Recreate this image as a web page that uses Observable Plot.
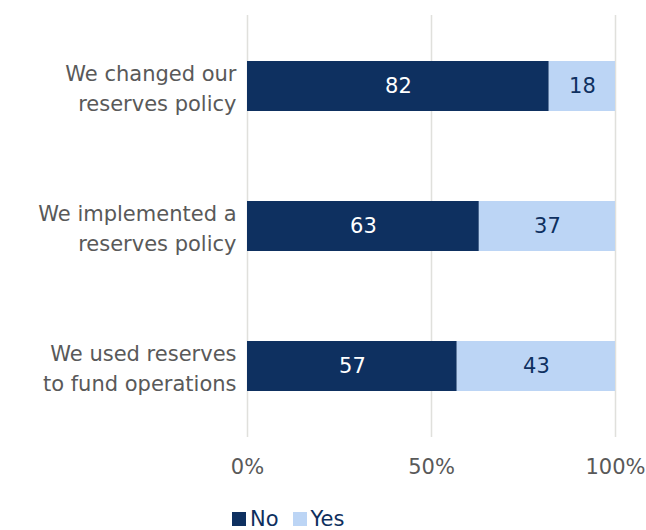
<!DOCTYPE html>
<html><head><meta charset="utf-8">
<script src="https://cdn.jsdelivr.net/npm/d3@7"></script>
<script src="https://cdn.jsdelivr.net/npm/@observablehq/plot@0.6"></script>
<style>
body{margin:0;background:#fff;font-family:"DejaVu Sans",sans-serif;}
#legend{display:flex;gap:14px;padding-left:232px;height:30px;margin-top:4px;align-items:center;font-size:21px;color:#0e2f5e;}
#legend span{display:flex;align-items:center;gap:4px;}
#legend i{display:inline-block;width:14px;height:14px;}
</style></head><body>
<div id="chart"></div>
<div id="legend"></div>
<script>
const categories = ["We changed our\nreserves policy", "We implemented a\nreserves policy", "We used reserves\nto fund operations"];
const noValues = [82, 63, 57];
const yesValues = [18, 37, 43];
const seriesNames = ["No", "Yes"];
const seriesColors = ["#0e3060", "#bcd5f5"];
const labelColors = ["#ffffff", "#0e3060"];
const xTicks = [0, 50, 100];

const data = [];
categories.forEach((c, i) => {
  data.push({cat: c, series: "No", value: noValues[i]});
  data.push({cat: c, series: "Yes", value: yesValues[i]});
});

const plot = Plot.plot({
  width: 646,
  height: 500,
  marginLeft: 247,
  marginRight: 31,
  marginTop: 15,
  marginBottom: 63,
  style: {fontFamily: "'DejaVu Sans', sans-serif", fontSize: "21px", color: "#595959"},
  x: {domain: [0, 100], label: null},
  y: {domain: categories, paddingInner: 0.645, paddingOuter: 0.3225, label: null},
  color: {domain: seriesNames, range: seriesColors},
  marks: [
    Plot.ruleX(xTicks, {stroke: "#e0e0dc", strokeWidth: 1.5}),
    Plot.barX(data, Plot.stackX({x: "value", y: "cat", fill: "series", z: "series"})),
    Plot.textX(data, Plot.stackX({x: "value", y: "cat", z: "series", text: d => String(d.value),
      fill: d => labelColors[seriesNames.indexOf(d.series)], fontSize: 21})),
    Plot.axisX({ticks: xTicks, tickSize: 0, tickPadding: 22, tickFormat: d => d + "%", fontSize: 21, fill: "#595959", label: null}),
    Plot.axisY({tickSize: 0, tickPadding: 11, fontSize: 21, lineHeight: 1.43, fill: "#595959", label: null})
  ]
});
document.getElementById("chart").appendChild(plot);

const leg = document.getElementById("legend");
seriesNames.forEach((s, i) => {
  const sp = document.createElement("span");
  const sw = document.createElement("i");
  sw.style.background = seriesColors[i];
  sp.appendChild(sw);
  sp.appendChild(document.createTextNode(s));
  leg.appendChild(sp);
});
</script>
</body></html>
